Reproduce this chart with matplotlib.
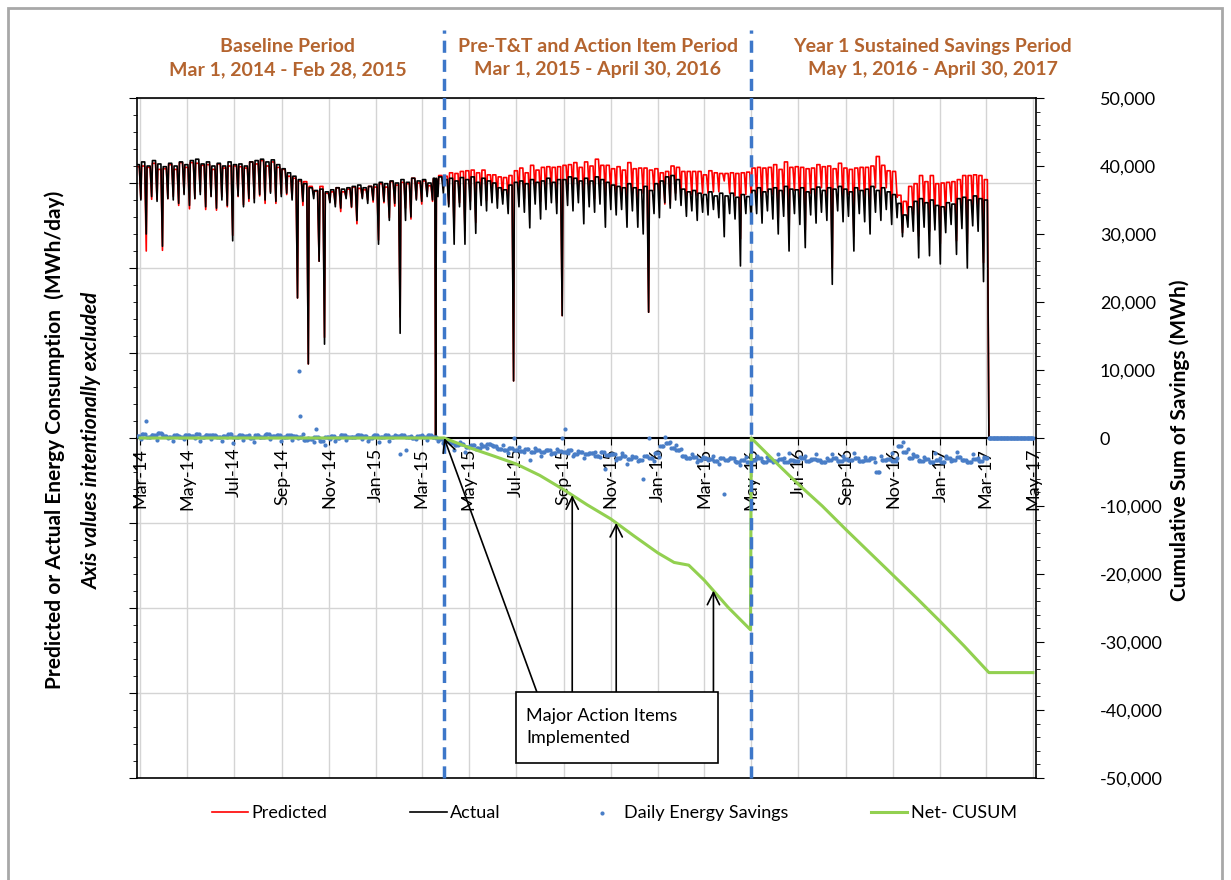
import numpy as np
import matplotlib
matplotlib.use('Agg')
import matplotlib.pyplot as plt
import matplotlib.dates as mdates
from matplotlib.patches import Rectangle
from matplotlib.ticker import MultipleLocator, AutoMinorLocator, FuncFormatter

plt.rcParams['font.family'] = ['Lato', 'DejaVu Sans']

# ------------------------------ data -------------------------------------
# weekly readings (thousand MWh/day), week i starts on week_start + 7*i (Monday)
# *_hi = weekday level, *_lo = weekend dip ; savings = actual - predicted
week_start = '2014-02-24'

actual_hi = [
    40.2,
    40.6, 40.0, 40.8, 40.3, 39.9,      # Mar-14
    40.4, 40.0, 40.6, 40.2,            # Apr-14
    40.8, 41.0, 40.3, 40.6,            # May-14
    40.0, 40.4, 40.0, 40.6, 40.2,      # Jun-14
    40.3, 40.0, 40.6, 40.8,            # Jul-14
    41.0, 40.6, 40.9, 40.2,            # Aug-14
    39.6, 39.0, 38.5, 38.0, 37.4,      # Sep-14
    36.8, 36.4, 36.6, 36.2,            # Oct-14
    36.5, 36.8, 36.6, 36.8,            # Nov-14
    37.0, 37.2, 36.8, 37.0, 37.3,      # Dec-14
    37.6, 37.4, 37.8, 37.5,            # Jan-15
    38.0, 37.6, 38.2, 37.8,            # Feb-15
    38.0, 37.5, 38.2, 38.4, 38.0,      # Mar-15
    38.2, 37.8, 38.3, 38.0,            # Apr-15
    38.4, 37.6, 38.2, 37.8,            # May-15
    37.5, 36.8, 36.5, 37.2, 37.6,      # Jun-15
    37.8, 37.4, 38.0, 37.6,            # Jul-15
    37.8, 38.2, 37.6, 38.0, 38.0,      # Aug-15
    38.4, 38.2, 37.8, 38.2,            # Sep-15
    37.8, 38.4, 38.0, 37.6,            # Oct-15
    37.2, 37.0, 36.8, 37.4, 36.8,      # Nov-15
    36.5, 37.0, 36.4, 37.4,            # Dec-15
    37.8, 38.4, 38.6, 38.0,            # Jan-16
    36.6, 36.2, 36.4, 36.0, 35.8,      # Feb-16
    36.2, 35.6, 36.0, 35.6,            # Mar-16
    36.0, 35.4, 35.8, 35.5,            # Apr-16
    36.4, 36.8, 36.2, 36.6, 36.8,      # May-16
    36.4, 37.0, 36.6, 36.5,            # Jun-16
    36.8, 36.2, 36.6, 36.9,            # Jul-16
    36.4, 36.8, 36.6, 37.0, 36.6,      # Aug-16
    36.2, 36.8, 36.4, 36.6,            # Sep-16
    37.0, 36.4, 36.8, 36.2, 35.8,      # Oct-16
    34.5, 32.8, 34.0, 34.8,            # Nov-16
    35.2, 34.6, 35.0, 34.2,            # Dec-16
    34.0, 34.6, 34.4, 35.2, 35.4,      # Jan-17
    35.0, 35.6, 35.2, 35.0,            # Feb-17
]

actual_lo = [
    35.0,
    30.0, 35.5, 34.8, 28.2, 35.2,
    35.0, 34.5, 35.8, 34.2,
    35.2, 35.8, 34.0, 35.5,
    33.8, 35.0, 34.2, 29.0, 35.6,
    34.0, 35.2, 34.6, 35.8,
    35.0, 36.0, 34.8, 35.5,
    36.0, 35.0, 20.6, 34.8, 10.9,
    35.2, 26.0, 13.8, 34.6,
    34.0, 33.8, 35.2, 34.0,
    32.0, 35.2, 34.5, 35.0, 28.5,
    34.8, 32.0, 34.5, 15.4,
    32.0, 32.5, 35.0, 34.8,
    35.5, 35.0, 35.5, 36.0, 34.0,
    28.5, 34.0, 28.5, 33.6,
    30.1, 34.2, 33.4, 34.6,
    33.8, 34.4, 33.0, 8.4, 34.0,
    33.2, 30.9, 34.4, 32.2,
    33.6, 34.6, 33.0, 18.0, 34.2,
    33.4, 34.6, 31.5, 34.0,
    33.2, 34.4, 31.0, 33.6,
    32.8, 33.6, 31.0, 33.4, 31.0,
    30.0, 18.5, 33.0, 32.4,
    34.6, 33.8, 35.0, 34.2,
    32.6, 33.4, 32.0, 33.2, 32.8,
    33.6, 32.4, 29.6, 33.0,
    32.2, 25.3, 33.0, 31.8,
    33.0, 31.6, 33.4, 32.2, 30.0,
    32.6, 27.5, 33.0, 31.4,
    28.0, 32.8, 31.6, 33.2,
    32.0, 22.6, 33.4, 31.8, 32.6,
    27.5, 33.0, 31.8, 30.0,
    33.2, 32.0, 33.6, 31.4, 32.4,
    29.6, 31.0, 30.4, 26.5,
    31.0, 26.8, 30.6, 25.6,
    30.2, 31.4, 27.0, 30.8, 25.0,
    31.2, 30.4, 23.0, 0.0,
]

savings_hi = [
    0.3,
    0.6, 0.2, 0.4, 0.8, 0.3,
    0.2, 0.5, 0.1, 0.4,
    0.3, 0.6, 0.2, 0.4,
    0.5, 0.1, 0.3, 0.6, 0.2,
    0.4, 0.3, 0.0, 0.5,
    0.2, 0.6, 0.3, 0.4,
    0.1, 0.5, 0.3, 0.2, -0.3,
    -0.2, 0.1, -0.4, 0.2,
    0.3, 0.0, 0.4, 0.2,
    0.1, 0.5, 0.3, 0.0, 0.4,
    0.2, 0.5, 0.1, 0.3,
    0.4, 0.2, 0.0, 0.3,
    0.2, 0.4, 0.1, -0.2, -0.5,
    -0.8, -1.1, -0.9, -1.3,
    -1.0, -1.4, -1.2, -0.9,
    -1.2, -1.6, -1.8, -1.4, -1.7,
    -1.9, -1.6, -2.1, -1.8,
    -2.0, -1.7, -2.2, -1.9, -2.1,
    -1.8, -2.3, -2.0, -2.4,
    -2.2, -2.6, -2.1, -2.5,
    -2.4, -2.9, -2.6, -3.1, -2.8,
    -3.2, -2.7, -3.0, -2.2,
    -1.2, -0.8, -1.4, -1.8,
    -2.6, -3.0, -2.8, -3.2, -2.9,
    -3.1, -3.4, -2.9, -3.3,
    -3.0, -3.5, -3.2, -3.6,
    -3.3, -3.0, -3.5, -3.2, -3.4,
    -3.1, -3.6, -3.2, -3.4,
    -3.0, -3.4, -3.1, -3.3,
    -3.5, -3.2, -3.0, -3.4, -3.1,
    -3.3, -2.9, -3.4, -3.2,
    -3.0, -5.0, -3.3, -3.1, -3.4,
    -1.2, -2.0, -3.0, -2.6,
    -3.4, -3.1, -3.6, -3.2,
    -3.5, -3.0, -3.3, -2.8, -3.2,
    -3.6, -3.1, -3.4, -3.0,
]

savings_lo = [
    -0.2,
    2.5, 0.4, -0.3, 0.6, 0.0,
    -0.5, 0.3, -0.2, 0.5,
    0.0, -0.4, 0.4, -0.1,
    0.3, -0.5, 0.2, -0.8, 0.1,
    -0.3, 0.4, -0.6, 0.2,
    0.5, -0.2, 0.3, -0.4,
    0.2, -0.3, 0.0, 0.6, 0.0,
    -0.6, 0.0, -1.0, -0.2,
    -0.4, 0.5, -0.3, 0.1,
    0.5, -0.2, -0.5, 0.3, -0.6,
    0.2, -0.4, 0.4, -2.4,
    -1.8, 0.3, -0.2, 0.4,
    -0.3, 0.2, -0.5, -0.8, -0.4,
    -1.8, -0.6, -2.0, -1.2,
    -1.6, -0.9, -1.5, -1.1,
    -1.4, -1.0, -2.2, 0.0, -1.3,
    -2.0, -3.2, -1.5, -2.6,
    -1.8, -2.4, -1.6, 0.0, -2.2,
    -2.6, -1.9, -3.0, -2.2,
    -2.0, -2.8, -4.6, -2.4,
    -3.2, -2.2, -3.8, -2.6, -3.4,
    -6.0, 0.0, -3.4, -2.8,
    0.2, -0.6, -1.0, -1.6,
    -3.0, -2.4, -3.6, -2.8, -3.2,
    -2.6, -3.8, -8.2, -3.0,
    -3.4, -4.0, -2.8, -3.6,
    -2.6, -3.4, -2.8, -3.6, -2.4,
    -3.0, -2.2, -3.4, -2.8,
    -2.6, -3.2, -2.4, -3.6,
    -3.0, -2.4, -3.4, -2.6, -3.2,
    -2.2, -3.4, -2.8, -3.0,
    -3.6, -2.6, -3.2, -2.2, -3.0,
    -0.6, -1.6, -2.4, -3.2,
    -2.8, -3.6, -2.2, -3.0,
    -2.6, -3.4, -2.0, -3.2, -3.6,
    -2.4, -3.0, -2.8, 0.0,
]

outage_day = '2015-03-19'          # plant down, both series at zero
metering_end = '2017-03-06'        # zero readings from here to axis end
axis_end = '2017-05-01'

extra_savings_dates = ['2014-09-23', '2014-09-24', '2014-10-15', '2015-09-03']
extra_savings_vals = [9.8, 3.2, 1.3, 1.3]

# Net CUSUM (MWh), right axis
cusum_dates = ['2014-03-01', '2015-03-30', '2015-05-01', '2015-06-01', '2015-07-01',
               '2015-08-01', '2015-09-01', '2015-10-01', '2015-11-01', '2015-12-01',
               '2016-01-01', '2016-01-22', '2016-02-10', '2016-03-01', '2016-04-01',
               '2016-04-30', '2016-05-01', '2016-06-01', '2016-07-01', '2016-08-01',
               '2016-09-01', '2016-10-01', '2016-11-01', '2016-12-01', '2017-01-01',
               '2017-02-01', '2017-03-05', '2017-05-01']
cusum_vals = [0, 0, -1400, -2600, -3800,
              -5500, -7600, -9800, -11900, -14400,
              -16900, -18300, -18700, -20900, -24900,
              -28200, 0, -3500, -6800, -10000,
              -13500, -16800, -20200, -23500, -27000,
              -30600, -34500, -34500]

period_starts = ['2015-03-30', '2016-05-01']
period_titles = ['Baseline Period\nMar 1, 2014 - Feb 28, 2015',
                 'Pre-T&T and Action Item Period\nMar 1, 2015 - April 30, 2016',
                 'Year 1 Sustained Savings Period\nMay 1, 2016 - April 30, 2017']
action_dates = ['2015-03-30', '2015-09-12', '2015-11-08', '2016-03-13']

# ------------------------- build the series --------------------------------
weeks = np.datetime64(week_start) + 7 * np.arange(len(actual_hi))
t = (weeks[:, None] + np.array([0, 2, 4, 6])[None, :]).ravel()
a_hi, a_lo = np.array(actual_hi), np.array(actual_lo)
s_hi, s_lo = np.array(savings_hi), np.array(savings_lo)
act = np.column_stack([a_hi, a_hi, a_hi, a_lo]).ravel() * 1000
sav = np.column_stack([s_hi, s_hi, s_hi, s_lo]).ravel() * 1000

tail = np.arange(np.datetime64(metering_end), np.datetime64(axis_end) + 1)
t = np.concatenate([t, [np.datetime64(outage_day)], tail])
act = np.concatenate([act, [0.0], np.zeros(len(tail))])
sav = np.concatenate([sav, [0.0], np.zeros(len(tail))])
order = np.argsort(t)
t, act, sav = t[order], act[order], sav[order]
pred = act - sav

dot_t = np.concatenate([t, np.array(extra_savings_dates, dtype='datetime64[D]')])
dot_v = np.concatenate([sav, np.array(extra_savings_vals) * 1000])

c_t = np.array(cusum_dates, dtype='datetime64[D]')
c_v = np.array(cusum_vals, dtype=float)

# ------------------------------ plot -------------------------------------
W, H = 1231, 880
fig = plt.figure(figsize=(W / 100, H / 100), dpi=100)
ax = fig.add_axes([137 / W, 1 - 778 / H, (1036 - 137) / W, (778 - 98) / H])

ax.plot(t, pred, color='red', lw=1.2, label='Predicted', zorder=2)
ax.plot(t, act, color='black', lw=1.2, label='Actual', zorder=3)
ax.scatter(dot_t, dot_v, s=9, color='#4A7EC7', lw=0, label='Daily Energy Savings', zorder=4)

ax.set_xlim(np.datetime64('2014-02-25'), np.datetime64('2017-05-05'))
ax.set_ylim(-50000, 50000)
ax.yaxis.set_major_locator(MultipleLocator(12500))
ax.yaxis.set_minor_locator(AutoMinorLocator(5))
ax.tick_params(axis='y', which='major', direction='out', length=6, labelleft=False)
ax.tick_params(axis='y', which='minor', direction='out', length=3)
ax.xaxis.set_major_locator(mdates.MonthLocator(bymonth=[1, 3, 5, 7, 9, 11]))
ax.xaxis.set_major_formatter(mdates.DateFormatter('%b-%y'))
ax.tick_params(axis='x', direction='out', length=5, labelsize=13, pad=2, labelrotation=90)
ax.grid(True, which='major', color='#D4D4D4', lw=1)
ax.set_axisbelow(True)
ax.spines['bottom'].set_position(('data', 0))
ax.spines['bottom'].set_linewidth(1.5)
ax.spines['top'].set_visible(False)
ax.spines['right'].set_visible(False)
ax.spines['left'].set_linewidth(1.2)

ax2 = ax.twinx()
ax2.plot(c_t, c_v, color='#92D050', lw=2.2, label='Net- CUSUM', zorder=5)
ax2.set_ylim(-50000, 50000)
ax2.yaxis.set_major_locator(MultipleLocator(10000))
ax2.yaxis.set_minor_locator(AutoMinorLocator(5))
ax2.yaxis.set_major_formatter(FuncFormatter(lambda v, p: f'{v:,.0f}'))
ax2.tick_params(axis='y', which='major', direction='out', length=6, labelsize=13, pad=40)
ax2.tick_params(axis='y', which='minor', direction='out', length=3)
for s in ['top', 'bottom', 'right']:
    ax2.spines[s].set_linewidth(1.2)
ax2.spines['left'].set_visible(False)

# period separators and titles
for d in period_starts:
    ax2.axvline(np.datetime64(d), ymin=0, ymax=(778 - 30) / 680, color='#3D77C9',
                lw=2.5, ls=(0, (3.5, 2)), clip_on=False, zorder=6)
for xc, txt in zip([288, 598, 933], period_titles):
    fig.text(xc / W, 1 - 58 / H, txt, ha='center', va='center', fontsize=14,
             fontweight='bold', color='#B4642F', linespacing=1.45)

# action item call-outs
c_num = mdates.date2num(c_t)
tail_dates = ['2015-07-28', '2015-09-12', '2015-11-08', '2016-03-13']
for d, td in zip(action_dates, tail_dates):
    xd = mdates.date2num(np.datetime64(d))
    ax2.annotate('', xy=(xd, np.interp(xd, c_num, c_v)),
                 xytext=(mdates.date2num(np.datetime64(td)), -37300),
                 arrowprops=dict(arrowstyle='->', color='black', lw=1.2, mutation_scale=22,
                                 shrinkA=0, shrinkB=0), zorder=7)
bx0 = mdates.date2num(np.datetime64('2015-07-01'))
bx1 = mdates.date2num(np.datetime64('2016-03-19'))
ax2.add_patch(Rectangle((bx0, -47800), bx1 - bx0, 10500, facecolor='white',
                        edgecolor='black', lw=1.2, zorder=8))
ax2.text(mdates.date2num(np.datetime64('2015-07-14')), -42500,
         'Major Action Items\nImplemented', ha='left', va='center', fontsize=13,
         linespacing=1.4, zorder=9)

# axis titles
fig.text(55 / W, 1 - 440 / H, 'Predicted or Actual Energy Consumption  (MWh/day)',
         rotation=90, ha='center', va='center', fontsize=15, fontweight='bold')
fig.text(92 / W, 1 - 440 / H, 'Axis values intentionally excluded', rotation=90,
         ha='center', va='center', fontsize=15, fontweight='bold', style='italic')
fig.text(1180 / W, 1 - 440 / H, 'Cumulative Sum of Savings (MWh)', rotation=90,
         ha='center', va='center', fontsize=15, fontweight='bold')

# legend
h1, l1 = ax.get_legend_handles_labels()
h2, l2 = ax2.get_legend_handles_labels()
fig.legend(h1 + h2, l1 + l2, loc='center', bbox_to_anchor=(0.499, 1 - 813 / H), ncol=4,
           frameon=False, fontsize=13, handlelength=2, handletextpad=0.2,
           columnspacing=4.6, markerscale=1.0)

fig.patches.append(Rectangle((8 / W, -0.01), (1222 - 8) / W, 1 - 8 / H + 0.01,
                             transform=fig.transFigure, fill=False, ec='#A8A8A8', lw=2))

fig.savefig('out.png', dpi=100)
